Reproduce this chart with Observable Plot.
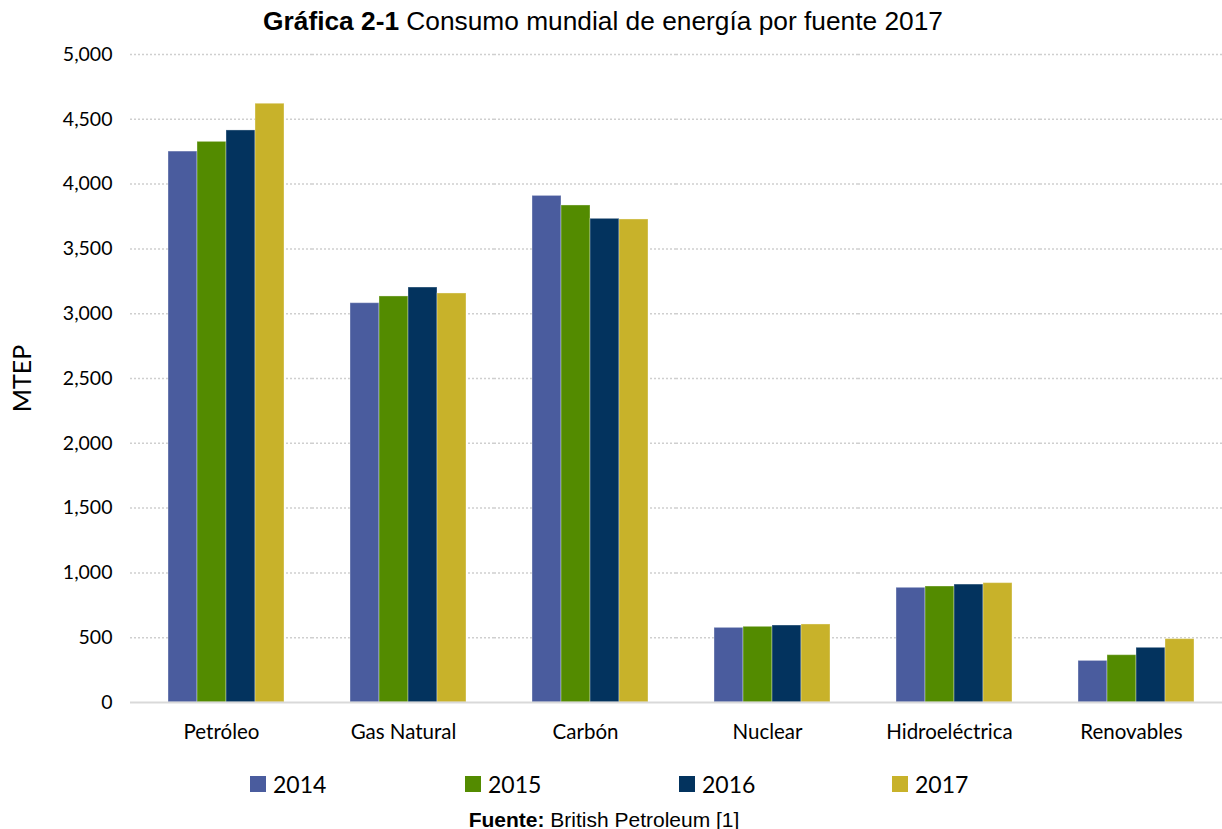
<!DOCTYPE html>
<html>
<head>
<meta charset="utf-8">
<script src="https://cdn.jsdelivr.net/npm/d3@7"></script>
<script src="https://cdn.jsdelivr.net/npm/@observablehq/plot@0.6"></script>
<style>
  body { margin: 0; background: #fff; width: 1222px; height: 829px; position: relative; overflow: hidden; }
  #title { position: absolute; left: 0; top: 6px; width: 1206px; text-align: center; font-family: "Liberation Sans", Arial, sans-serif; font-size: 26.3px; line-height: 30px; color: #000; white-space: nowrap; z-index: 2; }
  #chart { position: absolute; left: 0; top: 36px; }
  #legend { position: absolute; top: 768px; left: 0; width: 1222px; height: 32px; font-family: Lato, sans-serif; font-size: 23px; color: #000; }
  .item { position: absolute; top: 0; display: flex; align-items: center; height: 32px; }
  .sw { width: 16px; height: 16px; margin-right: 7px; }
  #caption { position: absolute; left: 0; top: 808px; width: 1208px; text-align: center; font-family: "Liberation Sans", Arial, sans-serif; font-size: 21px; line-height: 24px; color: #000; white-space: nowrap; }
</style>
</head>
<body>
<div id="chart"></div>
<div id="title"><b>Gráfica 2-1</b> Consumo mundial de energía por fuente 2017</div>
<div id="legend"></div>
<div id="caption"><b>Fuente:</b> British Petroleum [1]</div>
<script>
const categories = ["Petróleo", "Gas Natural", "Carbón", "Nuclear", "Hidroeléctrica", "Renovables"];
const years = ["2014", "2015", "2016", "2017"];
const v2014 = [4251, 3081, 3909, 576, 885, 321];
const v2015 = [4326, 3133, 3835, 584, 895, 365];
const v2016 = [4414, 3202, 3732, 594, 910, 422];
const v2017 = [4620, 3156, 3727, 602, 921, 489];
const colors = ["#4a5c9e", "#538b00", "#03335e", "#c8b22a"];
const yTicks = [0, 500, 1000, 1500, 2000, 2500, 3000, 3500, 4000, 4500, 5000];

const series = [v2014, v2015, v2016, v2017];
const data = [];
categories.forEach((c, i) => {
  years.forEach((y, j) => data.push({category: c, year: y, value: series[j][i]}));
});

const chart = Plot.plot({
  width: 1222,
  height: 714,
  marginLeft: 130,
  marginRight: 0,
  marginTop: 18,
  marginBottom: 48,
  style: {fontFamily: "Lato, sans-serif", color: "#000", background: "transparent"},
  fx: {domain: categories, padding: 0, label: null},
  x: {domain: years, paddingInner: 0, paddingOuter: 1.111, align: 0.58, axis: null},
  y: {domain: [0, 5000], axis: null},
  color: {domain: years, range: colors},
  marks: [
    Plot.ruleY(yTicks.filter(d => d > 0), {stroke: "#cfcfcf", strokeDasharray: "2,2", strokeWidth: 1.5}),
    Plot.barY(data, {fx: "category", x: "year", y: "value", fill: "year", stroke: "#ffffff", strokeOpacity: 0.35, strokeWidth: 1}),
    Plot.ruleY([0], {stroke: "#d9d9d9", strokeWidth: 2}),
    Plot.axisY({ticks: yTicks, tickFormat: d3.format(","), tickSize: 0, tickPadding: 18, fontSize: 19.5, label: null}),
    Plot.axisFx({anchor: "bottom", tickSize: 0, tickPadding: 22, fontSize: 20.5, label: null}),
    Plot.text(["MTEP"], {frameAnchor: "left", textAnchor: "middle", dx: -108, rotate: -90, fontSize: 25, facet: "super"})
  ]
});
document.getElementById("chart").appendChild(chart);

const legend = document.getElementById("legend");
const lefts = [250, 465, 679, 892];
years.forEach((y, i) => {
  const it = document.createElement("div");
  it.className = "item";
  it.style.left = lefts[i] + "px";
  it.innerHTML = `<span class="sw" style="background:${colors[i]}"></span><span>${y}</span>`;
  legend.appendChild(it);
});
</script>
</body>
</html>
